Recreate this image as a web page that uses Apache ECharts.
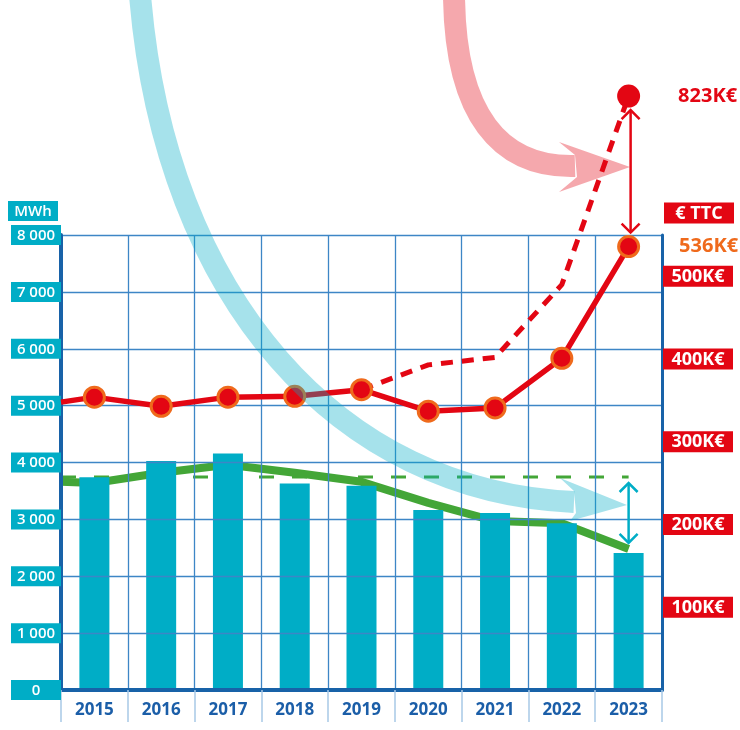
<!DOCTYPE html>
<html>
<head>
<meta charset="utf-8">
<script src="https://cdn.jsdelivr.net/npm/echarts@6/dist/echarts.min.js"></script>
<style>
html, body { margin: 0; padding: 0; background: #fff; }
#root { width: 740px; height: 730px; }
</style>
</head>
<body>
<div id="root"></div>
<script>
// data
var years = ['2015', '2016', '2017', '2018', '2019', '2020', '2021', '2022', '2023']
var consumptionMwh = [3740, 4025, 4160, 3630, 3590, 3165, 3110, 2930, 2410]
var trendMwh = [3640, 3820, 3960, 3820, 3660, 3290, 2970, 2930, 2480]
var trendStartMwh = 3660
var referenceMwh = 3745
var costKe = [354, 343, 354, 355, 363, 337, 341, 401, 536]
var costStartKe = 348
var projectedKe = [null, null, null, null, 363, 393, 402, 490, 718]
var costLabel = '536K€'
var projectedLabel = '823K€'
var mwhMax = 8000
var mwhStep = 1000
var keMax = 550
var keStep = 100
var mwhUnit = 'MWh'
var keUnit = '€ TTC'

var RED = '#e30613'
var ORANGE = '#ef6a1c'
var CYAN = '#00adc6'
var GREEN = '#43a637'
var AXIS_BLUE = '#1862a8'
var GRID_BLUE = '#3d86c6'
var FONT = '"Open Sans", sans-serif'

var pairs = (values, start) => {
	var out = []
	if (start !== undefined) out.push({ value: [-0.5, start], symbol: 'none' })
	values.forEach((v, i) => { if (v !== null) out.push([i, v]) })
	return out
}

var fmtMwh = v => {
	var s = String(v)
	return s.length > 3 ? s.slice(0, -3) + ' ' + s.slice(-3) : s
}

var chart = echarts.init(document.getElementById('root'))

var costData = pairs(costKe, costStartKe)
var last = costData[costData.length - 1]
costData[costData.length - 1] = {
	value: last,
	label: { show: true, position: 'right', distance: 39, formatter: costLabel,
		color: ORANGE, fontSize: 20, fontWeight: 700, fontFamily: FONT }
}

var option = {
	animation: false,
	grid: { left: 61, right: 78, top: 235, bottom: 40 },
	xAxis: [{
		type: 'category',
		data: years,
		boundaryGap: true,
		axisLine: { lineStyle: { color: AXIS_BLUE, width: 4 } },
		axisTick: { show: true, length: 32, lineStyle: { color: '#a8c9e6', width: 1.5 } },
		axisLabel: { color: '#1b5ea8', fontSize: 17, fontWeight: 700, fontFamily: FONT, margin: 12 },
		splitLine: { show: true, lineStyle: { color: GRID_BLUE, width: 1.3 } },
		z: 3
	}, {
		type: 'value', min: -0.5, max: years.length - 0.5, show: false
	}],
	yAxis: [{
		type: 'value',
		min: 0, max: mwhMax, interval: mwhStep,
		axisLine: { show: true, onZero: false, lineStyle: { color: AXIS_BLUE, width: 4 } },
		axisTick: { show: false },
		splitLine: { lineStyle: { color: GRID_BLUE, width: 1.3 } },
		axisLabel: {
			margin: 0,
			formatter: v => '{b|' + fmtMwh(v) + '}',
			rich: { b: { backgroundColor: CYAN, color: '#fff', width: 42, align: 'center',
				padding: [3, 4, 2, 4], fontSize: 15, fontWeight: 600, fontFamily: FONT, lineHeight: 17 } }
		},
		z: 3
	}, {
		type: 'value',
		position: 'right',
		min: 0, max: keMax, interval: keStep,
		axisLine: { show: true, onZero: false, lineStyle: { color: AXIS_BLUE, width: 3 } },
		axisTick: { show: false },
		splitLine: { show: false },
		axisLabel: {
			margin: 1,
			showMinLabel: false,
			showMaxLabel: false,
			formatter: v => '{r|' + v + 'K€}',
			rich: { r: { backgroundColor: RED, color: '#fff', width: 60, align: 'center',
				padding: [2, 5, 1, 5], fontSize: 18, fontWeight: 700, fontFamily: FONT, lineHeight: 19 } }
		},
		z: 3
	}],
	series: [{
		type: 'line', name: 'reference', xAxisIndex: 1, yAxisIndex: 0,
		data: [[-0.5, referenceMwh], [years.length - 1, referenceMwh]],
		symbol: 'none',
		lineStyle: { color: GREEN, width: 3, type: [15, 18] },
		z: 1
	}, {
		type: 'line', name: 'trend', xAxisIndex: 1, yAxisIndex: 0,
		data: pairs(trendMwh, trendStartMwh),
		symbol: 'none',
		lineStyle: { color: GREEN, width: 8 },
		z: 1
	}, {
		type: 'bar', name: 'consumption',
		data: consumptionMwh,
		barWidth: 30,
		itemStyle: { color: CYAN },
		z: 2
	}, {
		type: 'line', name: 'projected', xAxisIndex: 1, yAxisIndex: 1,
		data: pairs(projectedKe),
		symbol: 'none',
		clip: false,
		lineStyle: { color: RED, width: 5, type: [12, 9] },
		z: 3
	}, {
		type: 'line', name: 'cost', xAxisIndex: 1, yAxisIndex: 1,
		data: costData,
		symbol: 'circle', symbolSize: 20,
		clip: false,
		itemStyle: { color: RED, borderColor: ORANGE, borderWidth: 3 },
		lineStyle: { color: RED, width: 5.5 },
		z: 4
	}, {
		type: 'scatter', name: 'projectedEnd', xAxisIndex: 1, yAxisIndex: 1,
		data: [[years.length - 1, projectedKe[projectedKe.length - 1]]],
		symbolSize: 23,
		clip: false,
		itemStyle: { color: RED, opacity: 1 },
		label: { show: true, position: 'right', distance: 38, formatter: projectedLabel,
			color: RED, fontSize: 20, fontWeight: 700, fontFamily: FONT },
		z: 4
	}]
}

chart.setOption(option)

// annotations: double arrows tied to data positions, decorative curved arrows
var n = years.length - 1
var pTop = chart.convertToPixel({ seriesIndex: 5 }, [n, projectedKe[n]])
var pCost = chart.convertToPixel({ seriesIndex: 4 }, [n, costKe[n]])
var pRef = chart.convertToPixel({ seriesIndex: 1 }, [n, referenceMwh])
var pTrend = chart.convertToPixel({ seriesIndex: 1 }, [n, trendMwh[n]])

var doubleArrow = (x, y1, y2, color, w, z) => {
	var a = 9
	var st = { stroke: color, lineWidth: w, fill: null }
	return [
		{ type: 'line', z, shape: { x1: x, y1: y1, x2: x, y2: y2 }, style: st },
		{ type: 'polyline', z, shape: { points: [[x - a, y1 + a], [x, y1], [x + a, y1 + a]] }, style: st },
		{ type: 'polyline', z, shape: { points: [[x - a, y2 - a], [x, y2], [x + a, y2 - a]] }, style: st }
	]
}

var bandArrow = (p0, c1, c2, p3, head, color, z) => [
	{ type: 'bezierCurve', z, shape: { x1: p0[0], y1: p0[1], cpx1: c1[0], cpy1: c1[1], cpx2: c2[0], cpy2: c2[1], x2: p3[0], y2: p3[1] },
		style: { stroke: color, lineWidth: 22, fill: null } },
	{ type: 'polygon', z, shape: { points: head }, style: { fill: color } }
]

var labelBox = (text, x, y, bg) => ({
	type: 'text', z: 10, x, y,
	style: { text: '{a|' + text + '}', align: 'center', verticalAlign: 'middle',
		rich: { a: { backgroundColor: bg, fill: '#fff', color: '#fff', width: bg === RED ? 60 : 42, align: 'center',
			padding: bg === RED ? [2, 5, 1, 5] : [3, 4, 2, 4], fontSize: bg === RED ? 18 : 15,
			fontWeight: bg === RED ? 700 : 600, fontFamily: FONT, lineHeight: bg === RED ? 19 : 17 } } }
})

var graphics = []
	.concat(bandArrow([454, -5], [455, 115], [500, 168], [575, 166],
		[[575, 155], [559, 142], [630, 167], [559, 192], [577, 177]], 'rgba(227,6,19,0.35)', 1))
	.concat(bandArrow([140, -5], [165, 300], [340, 492], [574, 502],
		[[574, 491], [560, 478], [627, 505], [570, 521], [576, 513]], 'rgba(0,173,198,0.35)', 20))
	.concat(doubleArrow(pTop[0] + 2, pTop[1] + 14, pCost[1] - 14, RED, 2.5, 6))
	.concat(doubleArrow(pTrend[0], pRef[1] + 6, pTrend[1] - 6, CYAN, 2.5, 6))
	.concat([labelBox(mwhUnit, 33, 211, CYAN), labelBox(keUnit, 699, 213, RED)])

chart.setOption({ graphic: graphics })
</script>
</body>
</html>
